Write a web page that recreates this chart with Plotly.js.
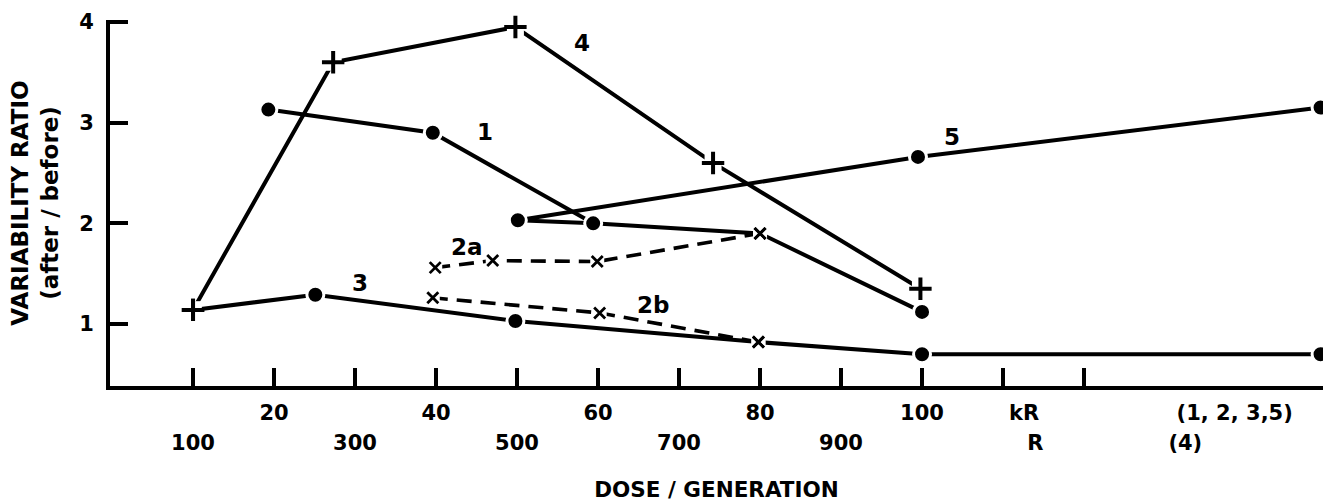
<!DOCTYPE html>
<html>
<head>
<meta charset="utf-8">
<script src="https://cdn.plot.ly/plotly-3.0.1.min.js"></script>
<style>
  html, body { margin: 0; padding: 0; background: #fff; }
  #chart { width: 1323px; height: 504px; }
</style>
</head>
<body>
<div id="chart"></div>
<script>
// ---- data (x in kR; series 4 in R) ----
const series1X = [19.3, 39.6, 59.4, 80, 100];
const series1Y = [3.13, 2.90, 2.00, 1.90, 1.12];
const series1Sym = ['circle', 'circle', 'circle', 'x', 'circle'];

const series2aX = [39.9, 47.0, 59.9, 80];
const series2aY = [1.56, 1.63, 1.62, 1.90];
const series2aSym = ['x', 'x', 'x', 'x'];

const series2bX = [39.6, 60.2, 79.8];
const series2bY = [1.26, 1.11, 0.82];
const series2bSym = ['x', 'x', 'x'];

const series3X = [10, 25.1, 49.8, 79.8, 100, 149.2];
const series3Y = [1.14, 1.29, 1.03, 0.82, 0.70, 0.70];
const series3Sym = ['plus', 'circle', 'circle', 'x', 'circle', 'circle'];

const series4R = [100, 273, 498, 742, 998];
const series4Y = [1.14, 3.60, 3.95, 2.60, 1.35];
const series4Sym = ['plus', 'plus', 'plus', 'plus', 'plus'];

const series5X = [50.1, 99.5, 149.2];
const series5Y = [2.03, 2.66, 3.15];
const series5Sym = ['circle', 'circle', 'circle'];

const linkX = [50.1, 59.4];
const linkY = [2.03, 2.00];

const curveLabels = ['1', '2a', '2b', '3', '4', '5'];
const curveLabelX = [46.0, 43.8, 66.8, 30.6, 58.0, 103.7];
const curveLabelY = [2.91, 1.76, 1.19, 1.41, 3.79, 2.86];

const kRTicks = [20, 40, 60, 80, 100, 112.6, 138.6];
const kRTickText = ['20', '40', '60', '80', '100', 'kR', '(1, 2, 3,5)'];
const RTicksR = [100, 300, 500, 700, 900, 1140, 1325];
const RTickText = ['100', '300', '500', '700', '900', 'R', '(4)'];
const majorTicks = [10, 20, 30, 40, 50, 60, 70, 80, 90, 100, 110, 120];
const yTicks = [1, 2, 3, 4];

// ---- styling ----
const FONT = 'DejaVu Sans, Arial, sans-serif';
const BLACK = '#000000';
const LW = 4;

const series4X = series4R.map(r => r / 10);
const allSeries = [
  { x: linkX, y: linkY, sym: null, dash: 'solid' },
  { x: series5X, y: series5Y, sym: series5Sym, dash: 'solid' },
  { x: series4X, y: series4Y, sym: series4Sym, dash: 'solid' },
  { x: series3X, y: series3Y, sym: series3Sym, dash: 'solid' },
  { x: series1X, y: series1Y, sym: series1Sym, dash: 'solid' },
  { x: series2aX, y: series2aY, sym: series2aSym, dash: '15px,9px' },
  { x: series2bX, y: series2bY, sym: series2bSym, dash: '15px,9px' }
];

const traces = [];
allSeries.forEach(s => {
  traces.push({
    x: s.x, y: s.y, mode: 'lines', hoverinfo: 'skip',
    line: { color: BLACK, width: s.dash === 'solid' ? LW : 3.6, dash: s.dash }
  });
});

function pick(kind) {
  const px = [], py = [];
  allSeries.forEach(s => {
    if (!s.sym) return;
    s.sym.forEach((k, i) => { if (k === kind) { px.push(s.x[i]); py.push(s.y[i]); } });
  });
  return { x: px, y: py };
}

const dots = pick('circle');
const pluses = pick('plus');
const crosses = pick('x');

traces.push({
  x: dots.x, y: dots.y, mode: 'markers', cliponaxis: false, hoverinfo: 'skip',
  marker: { symbol: 'circle', size: 17, color: BLACK, line: { color: '#ffffff', width: 3 } }
});
traces.push({
  x: pluses.x, y: pluses.y, mode: 'markers', cliponaxis: false, hoverinfo: 'skip',
  marker: { symbol: 'square', size: 17, color: '#ffffff', line: { width: 0 } }
});
traces.push({
  x: pluses.x, y: pluses.y, mode: 'markers', cliponaxis: false, hoverinfo: 'skip',
  marker: { symbol: 'cross-thin', size: 16, color: BLACK, line: { color: BLACK, width: 4 } }
});
traces.push({
  x: crosses.x, y: crosses.y, mode: 'markers', cliponaxis: false, hoverinfo: 'skip',
  marker: { symbol: 'square', size: 14, color: '#ffffff', line: { width: 0 } }
});
traces.push({
  x: crosses.x, y: crosses.y, mode: 'markers', cliponaxis: false, hoverinfo: 'skip',
  marker: { symbol: 'x-thin', size: 11, color: BLACK, line: { color: BLACK, width: 2.8 } }
});
// invisible traces so the label axes are drawn
traces.push({ x: [0], y: [1], xaxis: 'x2', mode: 'markers', marker: { opacity: 0 }, hoverinfo: 'skip' });
traces.push({ x: [0], y: [1], xaxis: 'x3', mode: 'markers', marker: { opacity: 0 }, hoverinfo: 'skip' });

const XR = [-0.25, 149.5];

const annotations = curveLabels.map((t, i) => ({
  x: curveLabelX[i], y: curveLabelY[i], xref: 'x', yref: 'y',
  text: t, showarrow: false,
  font: { family: FONT, size: 23, color: BLACK, weight: 'bold' }
}));

const layout = {
  width: 1323, height: 504,
  margin: { l: 110, r: 0, t: 20, b: 118 },
  paper_bgcolor: '#ffffff', plot_bgcolor: '#ffffff',
  showlegend: false,
  font: { family: FONT, color: BLACK, size: 21, weight: 'bold' },
  xaxis: {
    range: XR, showgrid: false, zeroline: false,
    showline: true, linecolor: BLACK, linewidth: 4,
    tickmode: 'array', tickvals: majorTicks, showticklabels: false,
    ticks: 'inside', ticklen: 18, tickwidth: 4, tickcolor: BLACK,
    title: { text: 'DOSE / GENERATION', standoff: 94,
             font: { family: FONT, size: 21.5, color: BLACK, weight: 'bold' } }
  },
  xaxis2: {
    overlaying: 'x', matches: 'x', side: 'bottom', range: XR,
    showgrid: false, zeroline: false, showline: false, ticks: '',
    tickmode: 'array', tickvals: kRTicks, ticktext: kRTickText,
    ticklabelstandoff: 12,
    tickfont: { family: FONT, size: 21, color: BLACK, weight: 'bold' }
  },
  xaxis3: {
    overlaying: 'x', matches: 'x', side: 'bottom', range: XR,
    showgrid: false, zeroline: false, showline: false, ticks: '',
    tickmode: 'array', tickvals: RTicksR.map(r => r / 10), ticktext: RTickText,
    ticklabelstandoff: 42,
    tickfont: { family: FONT, size: 21, color: BLACK, weight: 'bold' }
  },
  yaxis: {
    range: [0.384, 4.02], showgrid: false, zeroline: false,
    showline: true, linecolor: BLACK, linewidth: 4,
    tickmode: 'array', tickvals: yTicks,
    ticks: 'inside', ticklen: 18, tickwidth: 4, tickcolor: BLACK,
    ticklabelstandoff: 8,
    tickfont: { family: FONT, size: 21, color: BLACK, weight: 'bold' },
    title: { text: 'VARIABILITY RATIO<br>(after / before)', standoff: 15,
             font: { family: FONT, size: 23, color: BLACK, weight: 'bold' } }
  },
  annotations: annotations
};

Plotly.newPlot('chart', traces, layout, { staticPlot: true, displayModeBar: false });
</script>
</body>
</html>
